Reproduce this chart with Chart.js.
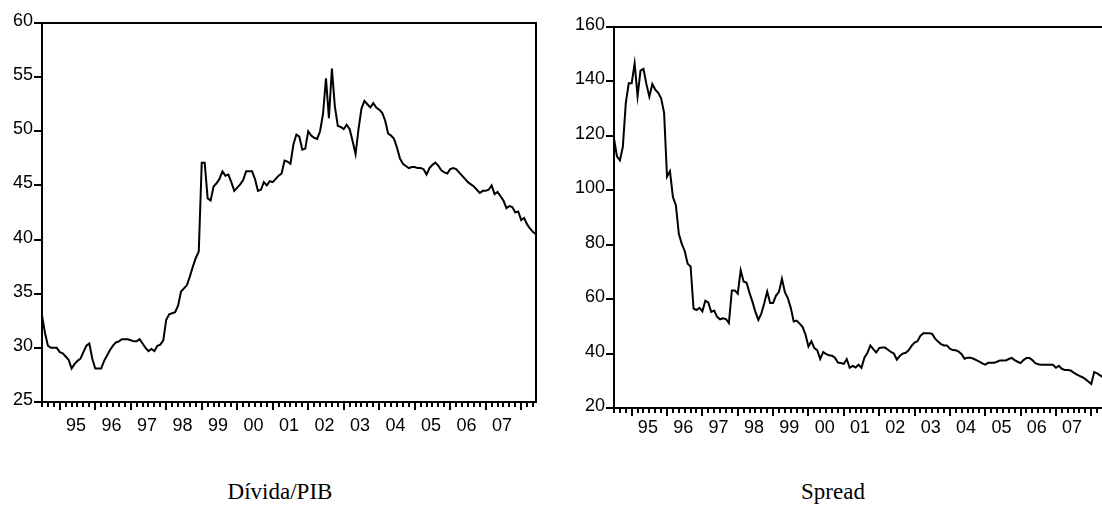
<!DOCTYPE html>
<html><head><meta charset="utf-8">
<script src="https://cdn.jsdelivr.net/npm/chart.js@4"></script>
<style>
html,body{margin:0;padding:0;background:#fff;width:1102px;height:528px;overflow:hidden;position:relative}
.box{position:absolute;top:0;height:450px;width:560px}
#c1box{left:0}
#c2box{left:560px}
.title{position:absolute;font-family:"Liberation Serif","Times New Roman",serif;font-size:23px;line-height:26px;color:#000;top:479px;transform:translateX(-50%);white-space:nowrap}
</style></head>
<body>
<div class="box" id="c1box"><canvas id="c1" width="560" height="450"></canvas></div>
<div class="box" id="c2box"><canvas id="c2" width="560" height="450"></canvas></div>
<div class="title" style="left:280px">Dívida/PIB</div>
<div class="title" style="left:833px">Spread</div>
<script>
// ---- data (monthly, 1994:07 .. 2008:06) ----
const startYear = 1994, startMonth = 7;
const yearLabels = ['95','96','97','98','99','00','01','02','03','04','05','06','07'];
const labelYears = [1995,1996,1997,1998,1999,2000,2001,2002,2003,2004,2005,2006,2007];

const debtGDP = [
 33.0,31.4,30.2,30.0,30.0,30.0,
 29.6,29.5,29.2,28.9,28.1,28.5,28.8,29.0,29.6,30.2,30.4,29.0,
 28.1,28.1,28.1,28.8,29.3,29.8,30.2,30.5,30.6,30.8,30.8,30.8,
 30.7,30.6,30.6,30.8,30.4,30.0,29.7,29.9,29.7,30.2,30.3,30.7,
 32.6,33.1,33.2,33.3,33.9,35.2,35.5,35.8,36.6,37.5,38.3,38.9,
 47.1,47.1,43.8,43.6,44.9,45.2,45.6,46.3,45.9,46.0,45.3,44.5,
 44.8,45.1,45.5,46.3,46.3,46.3,45.6,44.5,44.6,45.3,45.0,45.4,
 45.3,45.6,45.9,46.1,47.3,47.2,47.0,48.8,49.7,49.5,48.3,48.4,
 50.0,49.6,49.4,49.3,50.0,51.6,54.9,51.2,55.8,52.3,50.5,50.4,
 50.2,50.6,50.2,49.1,47.9,50.2,52.1,52.8,52.5,52.2,52.6,52.2,
 52.0,51.7,51.0,49.8,49.6,49.3,48.5,47.5,47.0,46.8,46.6,46.7,
 46.7,46.6,46.6,46.5,46.0,46.6,46.9,47.1,46.8,46.4,46.2,46.1,
 46.5,46.6,46.5,46.2,45.9,45.6,45.3,45.1,44.9,44.6,44.3,44.5,
 44.5,44.6,45.0,44.2,44.4,44.0,43.6,42.9,43.1,43.0,42.5,42.6,
 41.8,42.0,41.4,41.0,40.7,40.5
];

const spread = [
 119,112.5,111,116,132,139.3,
 139.3,146.6,134.6,144,144.6,139,134.4,139,137,135.8,133.8,128.5,
 105,107,97.5,94.5,84,80.3,77.7,73,72,56.5,56,56.8,
 55.5,59.4,58.8,55.3,55.8,53.5,52.6,53,52.7,51.2,63.2,63.2,
 62,70.6,66.5,66,62.3,59,55.3,52.4,54.7,58.5,62.8,58.6,
 58.6,61.3,62.7,67.5,62.6,60.4,56.8,51.8,52.1,51,49.8,47,
 42.6,44.5,42,41.2,38,40.6,39.8,39.4,39.2,38.5,36.7,36.5,
 36.2,38,34.8,35.5,34.9,35.9,34.8,38.5,40.2,43,41.6,40.4,
 42,42.2,42.2,41.4,40.6,40,37.8,39.1,40,40.3,41.2,42.8,
 44,44.5,46.5,47.5,47.5,47.5,47.2,45.5,44.4,43.5,43,43,
 41.8,41.3,41.2,40.7,39.8,38.1,38.5,38.5,38.1,37.6,37,36.4,
 35.9,36.6,36.6,36.6,37,37.5,37.5,37.5,38,38.4,37.6,37,
 36.5,37.6,38.4,38.4,37.6,36.5,36.1,35.9,35.9,35.9,35.9,35.9,
 34.8,35.5,34.4,34,34,33.8,33,32.4,31.8,31.3,30.6,29.7,
 28.8,33.2,32.7,32,31.3,31
];

// month categories
const months = debtGDP.map((_, i) => {
  const t = startMonth - 1 + i;
  const y = startYear + Math.floor(t / 12), m = (t % 12) + 1;
  return y + '-' + String(m).padStart(2, '0');
});

const FONT = '"Liberation Sans", Arial, sans-serif';

const frameAndTicks = {
  id: 'frameAndTicks',
  afterDraw(chart, args, opts) {
    const {ctx, chartArea: a, scales: {x}} = chart;
    ctx.save();
    ctx.strokeStyle = '#000';
    ctx.lineWidth = 2;
    ctx.beginPath();
    ctx.moveTo(a.left - 1, a.top);
    ctx.lineTo(a.right, a.top);
    ctx.lineTo(a.right, a.bottom);
    ctx.stroke();
    months.forEach((lab, i) => {
      const mon = parseInt(lab.slice(5), 10);
      if (mon % 2 === 1) {
        const px = Math.round(x.getPixelForValue(i));
        const len = mon === 1 ? 8 : 5;
        ctx.beginPath();
        ctx.moveTo(px, a.bottom);
        ctx.lineTo(px, a.bottom + len);
        ctx.stroke();
      }
    });
    ctx.fillStyle = '#000';
    ctx.font = '18px ' + FONT;
    ctx.textAlign = 'center';
    ctx.textBaseline = 'middle';
    labelYears.forEach((yr, k) => {
      const janIdx = months.indexOf(yr + '-01');
      const px = x.getPixelForValue(janIdx + 5.5);
      ctx.fillText(yearLabels[k], px, a.bottom + opts.labelDy);
    });
    ctx.restore();
  }
};

function makeChart(id, values, yMin, yMax, step, yWidth, xHeight, pad, labelDy) {
  return new Chart(document.getElementById(id), {
    type: 'line',
    data: {
      labels: months,
      datasets: [{
        data: values,
        borderColor: '#000',
        borderWidth: 2,
        pointRadius: 0,
        tension: 0,
        fill: false
      }]
    },
    options: {
      responsive: false,
      animation: false,
      events: [],
      layout: {padding: pad},
      plugins: {legend: {display: false}, tooltip: {enabled: false}, frameAndTicks: {labelDy}},
      scales: {
        x: {
          type: 'category',
          offset: false,
          ticks: {display: false},
          grid: {display: false},
          border: {display: true, color: '#000', width: 2},
          afterFit(s) { s.height = xHeight; }
        },
        y: {
          min: yMin, max: yMax,
          ticks: {stepSize: step, color: '#000', font: {family: FONT, size: 18}, padding: 1, labelOffset: -2},
          grid: {drawOnChartArea: false, drawTicks: true, tickLength: 8, color: '#000', lineWidth: 2},
          border: {display: true, color: '#000', width: 2},
          afterFit(s) { s.width = yWidth; }
        }
      }
    },
    plugins: [frameAndTicks]
  });
}

makeChart('c1', debtGDP, 25, 60, 5, 42, 48, {top: 23, right: 24, left: 0, bottom: 0}, 24);
makeChart('c2', spread, 20, 160, 20, 54, 42, {top: 27, right: 14, left: 0, bottom: 0}, 20);
</script>
</body></html>
